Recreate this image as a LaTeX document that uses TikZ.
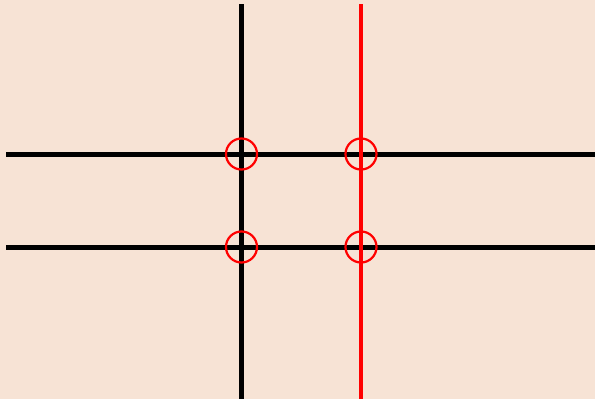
\documentclass[tikz,border=0pt]{standalone}
\definecolor{bg}{HTML}{F7E3D5}
\begin{document}
\begin{tikzpicture}[x=1pt,y=-1pt,
  gridline/.style={line width=4.2pt},
  mark circle/.style={circle,draw=red,line width=2.2pt,minimum size=31pt,inner sep=0pt}]
\fill[bg] (0,0) rectangle (595,399);
\useasboundingbox (0,0) rectangle (595,399);
\coordinate (vbT) at (241.5,4);
\coordinate (vbB) at (241.5,399);
\coordinate (vrT) at (361,4);
\coordinate (vrB) at (361,399);
\coordinate (h1L) at (6,154.5);
\coordinate (h1R) at (595,154.5);
\coordinate (h2L) at (6,247.5);
\coordinate (h2R) at (595,247.5);
\draw[gridline] (vbT) -- (vbB);
\draw[gridline] (h1L) -- (h1R);
\draw[gridline] (h2L) -- (h2R);
\draw[gridline,red] (vrT) -- (vrB);
\node[mark circle] (c1) at (241.5,154) {};
\node[mark circle] (c2) at (361,154) {};
\node[mark circle] (c3) at (241.5,247) {};
\node[mark circle] (c4) at (361,247) {};
\end{tikzpicture}
\end{document}
